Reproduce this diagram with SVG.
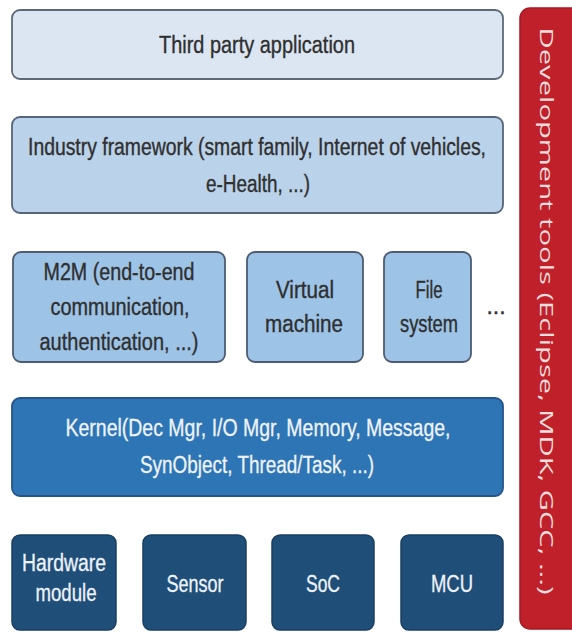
<svg xmlns="http://www.w3.org/2000/svg" width="572" height="632" viewBox="0 0 572 632">
<style>
.t{font-family:"Liberation Sans Narrow","Liberation Sans",Arial,sans-serif;font-size:23px;text-anchor:middle}
.dk{fill:#2f2f2f;stroke:#2f2f2f;stroke-width:0.35}
.lt{fill:#eef3f9;stroke:#eef3f9;stroke-width:0.3}
.b1{fill:#dce6f2;stroke:#5d6879;stroke-width:1.8}
.b2{fill:#bad2ea;stroke:#56657a;stroke-width:1.8}
.b3{fill:#9dc3e6;stroke:#4d5c72;stroke-width:1.8}
.b4{fill:#2e75b6;stroke:#24548a;stroke-width:1.8}
.b5{fill:#1f4e79;stroke:#1a3f62;stroke-width:1.5}
.red{fill:#c0202a;stroke:#a31a22;stroke-width:1.5}
.vt{font-family:"Open Sans","Noto Sans",sans-serif;font-size:19px;fill:#f6dede;text-anchor:middle}
</style>
<rect width="572" height="632" fill="#ffffff"/>
<g id="third-party">
<rect class="b1" x="12" y="10" width="491" height="69" rx="8"/>
<text class="t dk" x="257" y="53" textLength="196" lengthAdjust="spacingAndGlyphs">Third party application</text>
</g>
<g id="industry">
<rect class="b2" x="12" y="117" width="491" height="96" rx="8"/>
<text class="t dk" x="257" y="155" textLength="458" lengthAdjust="spacingAndGlyphs">Industry framework (smart family, Internet of vehicles,</text>
<text class="t dk" x="258" y="192" textLength="104" lengthAdjust="spacingAndGlyphs">e-Health, ...)</text>
</g>
<g id="m2m">
<rect class="b3" x="13" y="252" width="212" height="110" rx="8"/>
<text class="t dk" x="119" y="280" textLength="151" lengthAdjust="spacingAndGlyphs">M2M (end-to-end</text>
<text class="t dk" x="120" y="315" textLength="139" lengthAdjust="spacingAndGlyphs">communication,</text>
<text class="t dk" x="119" y="350" textLength="159" lengthAdjust="spacingAndGlyphs">authentication, ...)</text>
</g>
<g id="virtual-machine">
<rect class="b3" x="247" y="252" width="116" height="110" rx="8"/>
<text class="t dk" x="305" y="298" textLength="58" lengthAdjust="spacingAndGlyphs">Virtual</text>
<text class="t dk" x="304" y="332" textLength="78" lengthAdjust="spacingAndGlyphs">machine</text>
</g>
<g id="file-system">
<rect class="b3" x="384" y="252" width="87" height="110" rx="8"/>
<text class="t dk" x="429" y="298" textLength="27" lengthAdjust="spacingAndGlyphs">File</text>
<text class="t dk" x="429" y="332" textLength="58" lengthAdjust="spacingAndGlyphs">system</text>
</g>
<g id="more">
<text class="t dk" x="496" y="314" font-size="14">...</text>
</g>
<g id="kernel">
<rect class="b4" x="12" y="398" width="491" height="98" rx="8"/>
<text class="t lt" x="258" y="436" textLength="385" lengthAdjust="spacingAndGlyphs">Kernel(Dec Mgr, I/O Mgr, Memory, Message,</text>
<text class="t lt" x="257" y="473" textLength="234" lengthAdjust="spacingAndGlyphs">SynObject, Thread/Task, ...)</text>
</g>
<g id="hardware-module">
<rect class="b5" x="12" y="535" width="104" height="95" rx="8"/>
<text class="t lt" x="64" y="571" textLength="84" lengthAdjust="spacingAndGlyphs">Hardware</text>
<text class="t lt" x="66" y="601" textLength="61" lengthAdjust="spacingAndGlyphs">module</text>
</g>
<g id="sensor">
<rect class="b5" x="143" y="535" width="103" height="95" rx="8"/>
<text class="t lt" x="195" y="592" textLength="57" lengthAdjust="spacingAndGlyphs">Sensor</text>
</g>
<g id="soc">
<rect class="b5" x="272" y="535" width="102" height="95" rx="8"/>
<text class="t lt" x="323" y="592" textLength="34" lengthAdjust="spacingAndGlyphs">SoC</text>
</g>
<g id="mcu">
<rect class="b5" x="401" y="535" width="102" height="95" rx="8"/>
<text class="t lt" x="452" y="592" textLength="42" lengthAdjust="spacingAndGlyphs">MCU</text>
</g>
<g id="dev-tools">
<rect class="red" x="520" y="8" width="64" height="621" rx="10"/>
<text class="vt" transform="translate(540,311) rotate(90)" x="0" y="0" textLength="567" lengthAdjust="spacingAndGlyphs">Development tools (Eclipse, MDK, GCC, ...)</text>
</g>
<g id="connectors"></g>
</svg>
